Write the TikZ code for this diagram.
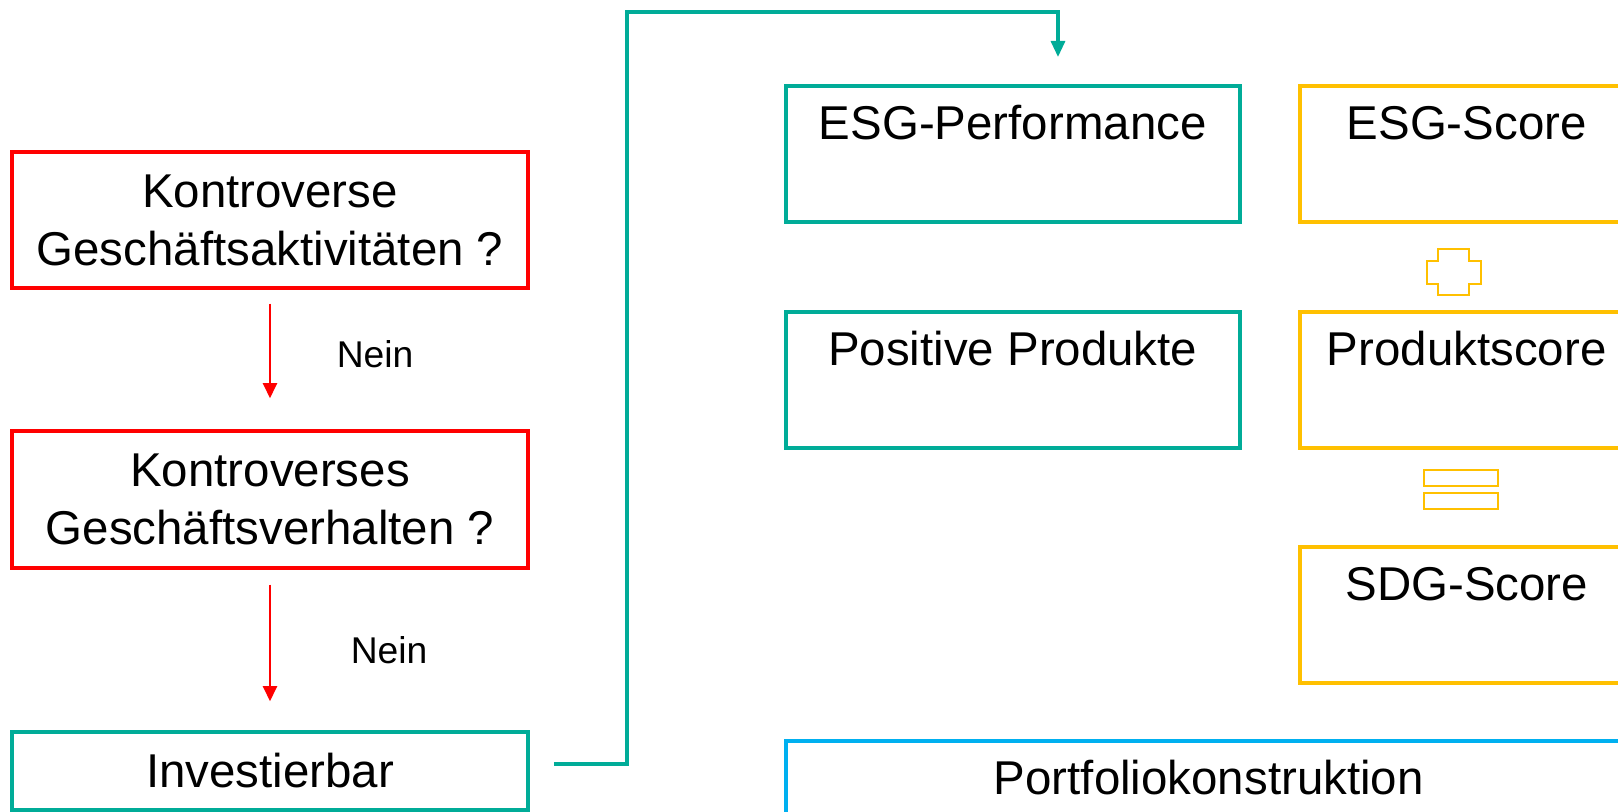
\documentclass[tikz,border=0pt]{standalone}
\usepackage{fontspec}
\setmainfont{Liberation Sans}
\usetikzlibrary{arrows.meta}
\definecolor{kred}{RGB}{255,0,0}
\definecolor{kteal}{RGB}{0,172,152}
\definecolor{kyellow}{RGB}{255,192,0}
\definecolor{kblue}{RGB}{0,176,240}
\begin{document}
\begin{tikzpicture}[
    box/.style={draw, line width=1pt, align=center,
      font=\fontsize{13.5}{16.5}\selectfont},
    leftbox/.style={box, minimum width=5.16cm},
    topbox/.style={box, anchor=north west, inner sep=0pt,
      text height=0.54cm, text depth=0.82cm},
    redarrow/.style={draw=kred, line width=0.6pt,
      -{Triangle[width=0.14cm,length=0.15cm]}},
    nein/.style={font=\fontsize{10.6}{12}\selectfont, right}
  ]
  \useasboundingbox (0,0) rectangle (16.18,-8.12);
  \clip (0,0) rectangle (16.18,-8.12);

  \node[leftbox, draw=kred, minimum height=1.36cm] (kga) at (2.70,-2.20)
    {Kontroverse\\Geschäftsaktivitäten ?};
  \node[leftbox, draw=kred, minimum height=1.37cm] (kgv) at (2.70,-4.995)
    {Kontroverses\\Geschäftsverhalten ?};
  \node[leftbox, draw=kteal, minimum height=0.78cm] (inv) at (2.70,-7.71)
    {Investierbar};

  \node[topbox, draw=kteal, minimum width=4.54cm] (esgp) at (7.84,-0.84) {ESG-Performance};
  \node[topbox, draw=kteal, minimum width=4.54cm] (posp) at (7.84,-3.10) {Positive Produkte};
  \node[topbox, draw=kyellow, minimum width=3.34cm] (esgs) at (12.98,-0.84) {ESG-Score};
  \node[topbox, draw=kyellow, minimum width=3.34cm] (prods) at (12.98,-3.10) {Produktscore};
  \node[topbox, draw=kyellow, minimum width=3.34cm] (sdgs) at (12.98,-5.45) {SDG-Score};
  \node[topbox, draw=kblue, minimum width=8.46cm] (port) at (7.84,-7.39) {Portfoliokonstruktion};

  \draw[redarrow] ([yshift=-0.14cm]kga.south) to
    node[nein, xshift=0.54cm, yshift=-0.03cm] {Nein} ([yshift=0.31cm]kgv.north);
  \draw[redarrow] ([yshift=-0.15cm]kgv.south) to
    node[nein, xshift=0.68cm, yshift=-0.07cm] {Nein} ([yshift=0.29cm]inv.north);

  \coordinate (esgin) at (10.58,-0.57);
  \draw[draw=kteal, line width=0.9pt, -{Triangle[width=0.14cm,length=0.16cm]}]
    ([xshift=0.24cm,yshift=0.07cm]inv.east) -| (6.27,-0.12) -| (esgin);

  % plus and equals
  \draw[kyellow, line width=0.65pt] (14.38,-2.49) -- (14.69,-2.49) -- (14.69,-2.61)
    -- (14.81,-2.61) -- (14.81,-2.84) -- (14.69,-2.84) -- (14.69,-2.95)
    -- (14.38,-2.95) -- (14.38,-2.84) -- (14.27,-2.84) -- (14.27,-2.61)
    -- (14.38,-2.61) -- cycle;
  \draw[kyellow, line width=0.6pt] (14.24,-4.70) rectangle (14.98,-4.86)
    (14.24,-4.93) rectangle (14.98,-5.09);
\end{tikzpicture}
\end{document}
